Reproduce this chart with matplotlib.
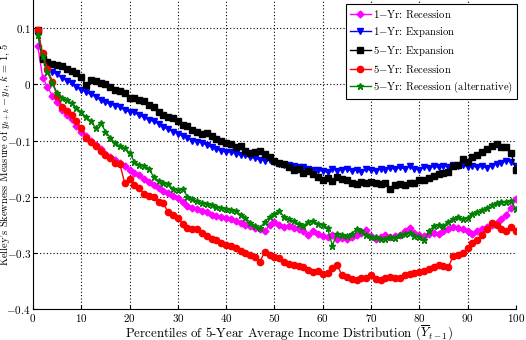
import numpy as np
import matplotlib
matplotlib.use('Agg')
import matplotlib.pyplot as plt

plt.rcParams['font.family'] = ['cmr10', 'DejaVu Serif']
plt.rcParams['mathtext.fontset'] = 'cm'
plt.rcParams['axes.formatter.use_mathtext'] = True

pct = np.arange(1, 101)

rec_1yr = [0.068, 0.012, -0.005, -0.020, -0.032, -0.045, -0.055, -0.062, -0.074, -0.085,
           -0.092, -0.100, -0.108, -0.115, -0.124, -0.130, -0.134, -0.140, -0.145, -0.152,
           -0.158, -0.162, -0.168, -0.174, -0.180, -0.184, -0.190, -0.194, -0.199, -0.203,
           -0.210, -0.216, -0.220, -0.222, -0.226, -0.228, -0.232, -0.234, -0.236, -0.238,
           -0.239, -0.243, -0.247, -0.250, -0.252, -0.255, -0.258, -0.262, -0.250, -0.245,
           -0.250, -0.254, -0.252, -0.256, -0.258, -0.262, -0.268, -0.262, -0.266, -0.270,
           -0.272, -0.268, -0.276, -0.274, -0.275, -0.272, -0.268, -0.264, -0.260, -0.270,
           -0.275, -0.271, -0.268, -0.272, -0.270, -0.268, -0.262, -0.256, -0.264, -0.268,
           -0.270, -0.267, -0.265, -0.266, -0.262, -0.258, -0.254, -0.256, -0.258, -0.262,
           -0.266, -0.262, -0.257, -0.254, -0.250, -0.246, -0.240, -0.232, -0.220, -0.205]

exp_1yr = [0.090, 0.045, 0.030, 0.022, 0.018, 0.012, 0.006, 0.002, -0.005, -0.010,
           -0.014, -0.018, -0.022, -0.028, -0.032, -0.035, -0.038, -0.040, -0.046, -0.049,
           -0.050, -0.055, -0.059, -0.063, -0.066, -0.070, -0.076, -0.080, -0.084, -0.088,
           -0.092, -0.096, -0.100, -0.102, -0.104, -0.108, -0.112, -0.116, -0.118, -0.121,
           -0.120, -0.124, -0.126, -0.126, -0.130, -0.132, -0.134, -0.136, -0.134, -0.139,
           -0.142, -0.144, -0.143, -0.146, -0.148, -0.147, -0.150, -0.152, -0.152, -0.155,
           -0.156, -0.150, -0.154, -0.152, -0.150, -0.155, -0.152, -0.156, -0.151, -0.153,
           -0.154, -0.150, -0.152, -0.149, -0.151, -0.148, -0.150, -0.146, -0.150, -0.152,
           -0.147, -0.149, -0.146, -0.148, -0.145, -0.147, -0.144, -0.146, -0.143, -0.147,
           -0.145, -0.148, -0.146, -0.149, -0.145, -0.142, -0.140, -0.136, -0.138, -0.145]

exp_5yr = [0.097, 0.045, 0.040, 0.037, 0.035, 0.032, 0.027, 0.024, 0.020, 0.013,
           -0.002, 0.008, 0.006, 0.003, 0.000, -0.005, -0.010, -0.012, -0.015, -0.024,
           -0.025, -0.028, -0.030, -0.036, -0.041, -0.050, -0.055, -0.058, -0.060, -0.066,
           -0.072, -0.075, -0.082, -0.085, -0.088, -0.086, -0.092, -0.097, -0.100, -0.104,
           -0.106, -0.112, -0.110, -0.118, -0.122, -0.120, -0.118, -0.124, -0.130, -0.137,
           -0.140, -0.142, -0.148, -0.152, -0.150, -0.158, -0.155, -0.160, -0.165, -0.170,
           -0.167, -0.172, -0.165, -0.168, -0.170, -0.176, -0.178, -0.174, -0.175, -0.173,
           -0.176, -0.177, -0.176, -0.186, -0.180, -0.178, -0.179, -0.175, -0.176, -0.171,
           -0.170, -0.166, -0.163, -0.159, -0.157, -0.156, -0.145, -0.143, -0.133, -0.138,
           -0.130, -0.125, -0.121, -0.116, -0.110, -0.107, -0.112, -0.112, -0.122, -0.153]

rec_5yr = [0.097, 0.055, 0.028, 0.005, -0.020, -0.040, -0.048, -0.055, -0.065, -0.078,
           -0.095, -0.103, -0.110, -0.118, -0.125, -0.132, -0.140, -0.142, -0.176, -0.168,
           -0.180, -0.184, -0.196, -0.199, -0.200, -0.210, -0.212, -0.228, -0.233, -0.238,
           -0.248, -0.256, -0.258, -0.258, -0.264, -0.270, -0.275, -0.278, -0.283, -0.286,
           -0.288, -0.292, -0.297, -0.300, -0.304, -0.308, -0.316, -0.298, -0.304, -0.308,
           -0.310, -0.316, -0.320, -0.322, -0.323, -0.325, -0.330, -0.334, -0.333, -0.338,
           -0.336, -0.327, -0.322, -0.340, -0.343, -0.347, -0.348, -0.345, -0.344, -0.340,
           -0.347, -0.349, -0.345, -0.343, -0.345, -0.344, -0.340, -0.338, -0.336, -0.335,
           -0.332, -0.329, -0.326, -0.322, -0.324, -0.326, -0.306, -0.304, -0.300, -0.292,
           -0.283, -0.278, -0.268, -0.258, -0.246, -0.250, -0.258, -0.262, -0.254, -0.262]

rec_5yr_alt = [0.088, 0.050, 0.022, 0.002, -0.015, -0.024, -0.027, -0.034, -0.042, -0.050,
               -0.058, -0.066, -0.078, -0.068, -0.084, -0.095, -0.105, -0.110, -0.114, -0.122,
               -0.138, -0.144, -0.145, -0.150, -0.165, -0.172, -0.176, -0.178, -0.186, -0.188,
               -0.186, -0.200, -0.205, -0.208, -0.211, -0.213, -0.215, -0.218, -0.221, -0.222,
               -0.224, -0.226, -0.232, -0.238, -0.246, -0.252, -0.256, -0.245, -0.236, -0.230,
               -0.226, -0.236, -0.240, -0.244, -0.248, -0.252, -0.245, -0.244, -0.248, -0.250,
               -0.256, -0.287, -0.266, -0.268, -0.270, -0.266, -0.258, -0.262, -0.268, -0.271,
               -0.272, -0.275, -0.276, -0.272, -0.273, -0.268, -0.266, -0.264, -0.270, -0.272,
               -0.278, -0.262, -0.252, -0.250, -0.252, -0.245, -0.240, -0.236, -0.240, -0.238,
               -0.230, -0.228, -0.224, -0.220, -0.214, -0.212, -0.210, -0.209, -0.207, -0.222]

labels = ['1$-$Yr: Recession', '1$-$Yr: Expansion', '5$-$Yr: Expansion',
          '5$-$Yr: Recession', '5$-$Yr: Recession (alternative)']
yticks = [-0.4, -0.3, -0.2, -0.1, 0, 0.1]
xticks = list(range(0, 101, 10))


def main():
    fig = plt.figure(figsize=(5.26, 3.40), dpi=100)
    ax = fig.add_axes([0.0627, 0.0912, 0.918, 0.9085])

    ax.plot(pct, rec_1yr, color='#ff00ff', marker='D', markersize=3.5, lw=1, label=labels[0])
    ax.plot(pct, exp_1yr, color='#0000ff', marker='v', markersize=4, lw=1, label=labels[1])
    ax.plot(pct, exp_5yr, color='black', marker='s', markersize=4.5, lw=1, label=labels[2])
    ax.plot(pct, rec_5yr, color='#ff0000', marker='o', markersize=4.5, lw=1, label=labels[3])
    ax.plot(pct, rec_5yr_alt, color='#008000', marker='*', markersize=5, lw=1, label=labels[4])

    ax.set_xlim(0, 100)
    ax.set_ylim(-0.4, 0.15)
    ax.set_xticks(xticks)
    ax.set_yticks(yticks)
    ax.set_yticklabels(['$%g$' % v for v in yticks])
    ax.set_xticklabels(['$%d$' % v for v in xticks])
    ax.tick_params(direction='in', labelsize=8, length=3)
    ax.tick_params(axis='y', pad=1.5)
    ax.tick_params(axis='x', pad=2.5)
    ax.grid(True, color='black', linestyle=(0, (1, 2)), linewidth=0.8)
    ax.spines['top'].set_visible(False)
    ax.spines['right'].set_visible(False)

    ax.set_xlabel(r'Percentiles of 5-Year Average Income Distribution ($\overline{Y}_{t-1}$)',
                  fontsize=9.3, va='top')
    ax.xaxis.set_label_coords(0.53, -0.044)
    ax.set_ylabel(r"Kelley's Skewness Measure of $y_{t+k}-y_t$, $k$ = 1, 5",
                  fontsize=7.5)
    ax.yaxis.set_label_coords(-0.043, 0.5)

    leg = ax.legend(loc='upper right', fontsize=7.7, bbox_to_anchor=(1.002, 0.987),
                    borderaxespad=0, fancybox=False, edgecolor='black',
                    handlelength=2.0, handletextpad=0.2, labelspacing=0.46,
                    borderpad=0.35, framealpha=1)
    leg.get_frame().set_linewidth(0.8)

    fig.savefig('out.png', dpi=100)


if __name__ == "__main__":
    main()
